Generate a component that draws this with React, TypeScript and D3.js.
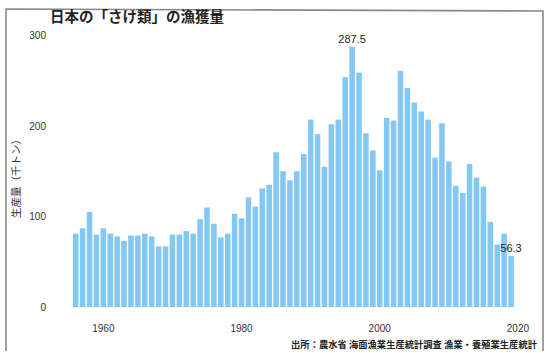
import React from "react";
import * as d3 from "d3";

const years: number[] = [
  1956, 1957, 1958, 1959, 1960, 1961, 1962, 1963, 1964, 1965,
  1966, 1967, 1968, 1969, 1970, 1971, 1972, 1973, 1974, 1975,
  1976, 1977, 1978, 1979, 1980, 1981, 1982, 1983, 1984, 1985,
  1986, 1987, 1988, 1989, 1990, 1991, 1992, 1993, 1994, 1995,
  1996, 1997, 1998, 1999, 2000, 2001, 2002, 2003, 2004, 2005,
  2006, 2007, 2008, 2009, 2010, 2011, 2012, 2013, 2014, 2015,
  2016, 2017, 2018, 2019,
];

const catch1000t: number[] = [
  81, 87, 105, 80, 87, 81, 78, 73, 79, 79,
  81, 78, 67, 67, 80, 80, 84, 81, 97, 110,
  92, 77, 81, 103, 98, 121, 111, 131, 135, 171,
  150, 140, 150, 169, 207, 191, 155, 202, 207, 254,
  287.5, 259, 192, 173, 151, 209, 206, 261, 242, 226,
  216, 207, 165, 203, 161, 134, 126, 158, 143, 133,
  94, 69, 81, 56.3,
];

const yTicks: number[] = [0, 100, 200, 300];
const xTicks: number[] = [1960, 1980, 2000, 2020];
const labeledYears: number[] = [1996, 2019];

const title = "日本の「さけ類」の漁獲量";
const yTitle = "生産量（千トン）";
const source = "出所：農水省 海面漁業生産統計調査 漁業・養殖業生産統計";

const W = 547;
const H = 353;
const STEP = 6.91;
const X0 = 75.7; // centre of first bar

export default function App() {
  const y = d3.scaleLinear().domain([0, 300]).range([307, 35.5]);
  const x = d3
    .scaleBand<number>()
    .domain(years)
    .range([X0 - STEP / 2, X0 - STEP / 2 + STEP * years.length])
    .paddingInner(0.2)
    .paddingOuter(0.1);
  const xYear = d3
    .scaleLinear()
    .domain([years[0], years[years.length - 1]])
    .range([
      (x(years[0]) as number) + x.bandwidth() / 2,
      (x(years[years.length - 1]) as number) + x.bandwidth() / 2,
    ]);

  const numFont = "'Liberation Sans', Arial, sans-serif";
  const jpFont = "'Noto Sans CJK JP', sans-serif";

  return (
    <svg
      width={W}
      height={H}
      style={{ position: "absolute", left: 0, top: 0, background: "#fff" }}
    >
      <rect x={0} y={0} width={W} height={H} fill="#fff" />
      <path
        d={`M6,351 L6,9 L543,11 L543,351`}
        fill="none"
        stroke="#8a8a8a"
        strokeWidth={1.6}
      />
      <text
        x={50}
        y={22}
        fontFamily={jpFont}
        fontWeight={700}
        fontSize={14.5}
        fill="#222"
      >
        {title}
      </text>

      {yTicks.map((t) => (
        <text
          key={t}
          x={46}
          y={y(t)}
          dy="0.35em"
          textAnchor="end"
          fontFamily={numFont}
          fontSize={10}
          fill="#333"
        >
          {t}
        </text>
      ))}

      <text
        transform={`translate(16,176) rotate(-90)`}
        textAnchor="middle"
        dy="0.35em"
        fontFamily={jpFont}
        fontSize={10.5}
        fill="#333"
      >
        {yTitle}
      </text>

      {years.map((yr, i) => (
        <rect
          key={yr}
          x={x(yr)}
          y={y(catch1000t[i])}
          width={x.bandwidth()}
          height={y(0) - y(catch1000t[i])}
          fill="#82c8f2"
        />
      ))}

      {labeledYears.map((yr) => {
        const i = years.indexOf(yr);
        const v = catch1000t[i];
        return (
          <text
            key={yr}
            x={(x(yr) as number) + x.bandwidth() / 2}
            y={y(v) - 4}
            textAnchor="middle"
            fontFamily={numFont}
            fontSize={11}
            fill="#222"
          >
            {v.toFixed(1)}
          </text>
        );
      })}

      {xTicks.map((t) => (
        <text
          key={t}
          x={xYear(t)}
          y={332}
          textAnchor="middle"
          fontFamily={numFont}
          fontSize={10}
          fill="#333"
        >
          {t}
        </text>
      ))}

      <text
        x={537}
        y={348}
        textAnchor="end"
        fontFamily={jpFont}
        fontWeight={700}
        fontSize={9.3}
        fill="#222"
      >
        {source}
      </text>
    </svg>
  );
}
